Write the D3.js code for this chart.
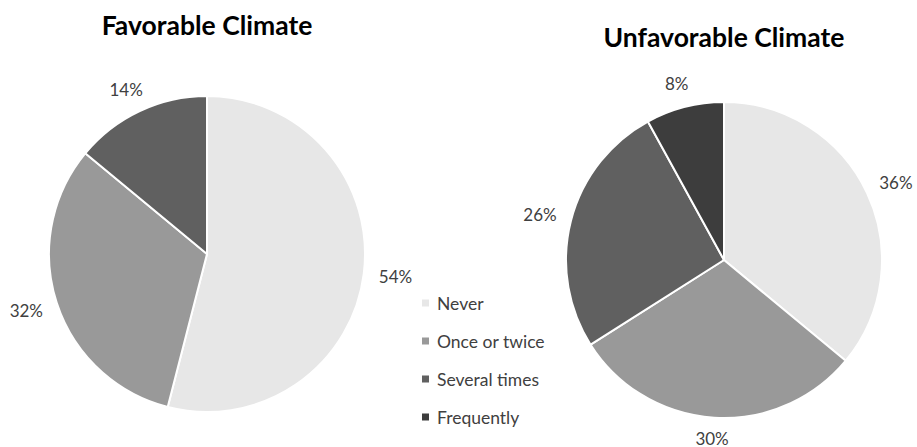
<!DOCTYPE html>
<html>
<head>
<meta charset="utf-8">
<script src="https://cdn.jsdelivr.net/npm/d3@7"></script>
<style>
  html, body { margin: 0; padding: 0; background: #fff; }
  svg { display: block; }
  text { font-family: Lato, "Open Sans", sans-serif; }
</style>
</head>
<body>
<svg id="chart" width="917" height="447"></svg>
<script>
// Response categories (shared by both pies and the legend)
const categories = ["Never", "Once or twice", "Several times", "Frequently"];

// Share of respondents per category, in percent
const favorableValues = [54, 32, 14, 0];
const unfavorableValues = [36, 30, 26, 8];

const chartTitles = ["Favorable Climate", "Unfavorable Climate"];

const colors = d3.scaleOrdinal()
  .domain(categories)
  .range(["#e7e7e7", "#999999", "#606060", "#3d3d3d"]);

const width = 917, height = 447;
const svg = d3.select("#chart");

const radius = 158;
const pies = [
  { title: chartTitles[0], values: favorableValues, cx: 207, cy: 254, titleY: 35 },
  { title: chartTitles[1], values: unfavorableValues, cx: 724, cy: 260, titleY: 47 }
];

const pieLayout = d3.pie().sort(null).value(d => d.value);
const arc = d3.arc().innerRadius(0).outerRadius(radius);

pies.forEach(p => {
  const data = categories.map((c, i) => ({ category: c, value: p.values[i] }));
  const arcs = pieLayout(data).filter(a => a.data.value > 0);

  svg.append("text")
    .attr("x", p.cx)
    .attr("y", p.titleY)
    .attr("text-anchor", "middle")
    .attr("font-weight", "bold")
    .attr("font-size", 26.5)
    .attr("fill", "#000")
    .text(p.title);

  const g = svg.append("g").attr("transform", `translate(${p.cx},${p.cy})`);

  g.selectAll("path")
    .data(arcs)
    .join("path")
    .attr("d", arc)
    .attr("fill", d => colors(d.data.category))
    .attr("stroke", "#fff")
    .attr("stroke-width", 2)
    .attr("stroke-linejoin", "round");

  // Outside-end labels: box sits just beyond the rim along the slice's mid angle,
  // kept inside the drawing area
  const gap = 17, halfW = 15, halfH = 7;
  g.selectAll("text.pct")
    .data(arcs)
    .join("text")
    .attr("class", "pct")
    .attr("text-anchor", "middle")
    .attr("dominant-baseline", "central")
    .attr("font-size", 17)
    .attr("fill", "#404040")
    .each(function(d) {
      const a = (d.startAngle + d.endAngle) / 2;
      const s = Math.sin(a), c = Math.cos(a);
      const r = radius + gap;
      const x = r * s + s * halfW;
      const y = Math.min(-r * c - c * halfH, height - p.cy - halfH - 2);
      d3.select(this).attr("x", x).attr("y", y);
    })
    .text(d => d.data.value + "%");
});

// Legend between the two pies
const legendX = 422, legendY0 = 303, legendStep = 38;
const legend = svg.append("g");
const items = legend.selectAll("g")
  .data(categories)
  .join("g")
  .attr("transform", (d, i) => `translate(${legendX},${legendY0 + i * legendStep})`);

items.append("rect")
  .attr("x", 0).attr("y", -3.5)
  .attr("width", 7).attr("height", 7)
  .attr("fill", d => colors(d));

items.append("text")
  .attr("x", 15)
  .attr("y", 0)
  .attr("dominant-baseline", "central")
  .attr("font-size", 17.5)
  .attr("fill", "#404040")
  .text(d => d);
</script>
</body>
</html>
